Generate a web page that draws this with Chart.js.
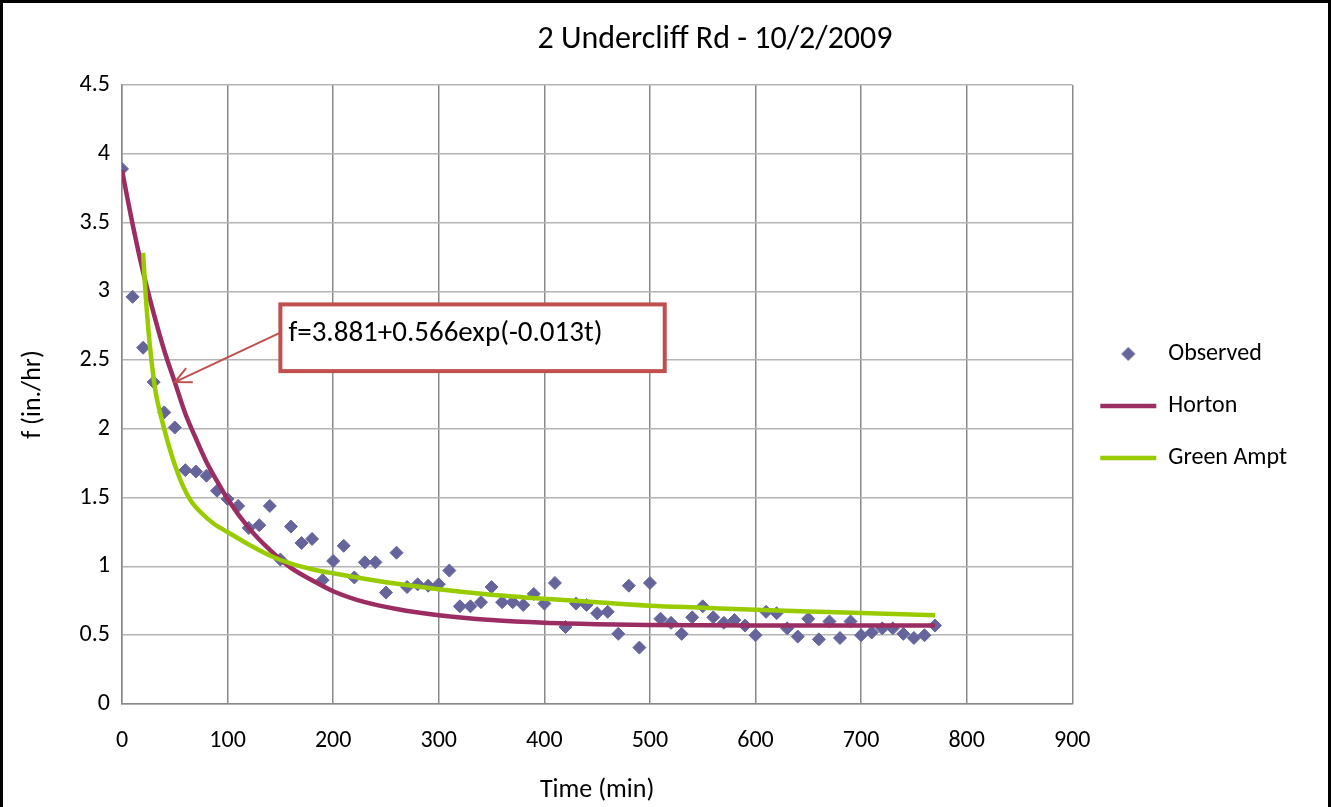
<!DOCTYPE html>
<html lang="en">

<head>
    <meta charset="UTF-8">
    <title>2 Undercliff Rd - 10/2/2009</title>
    <script src="https://cdn.jsdelivr.net/npm/chart.js"></script>
    <style>
        html,
        body {
            margin: 0;
            padding: 0;
            background: #ffffff;
        }

        .frame {
            position: relative;
            width: 1331px;
            height: 807px;
        }

        .frame::after {
            content: '';
            position: absolute;
            left: 0;
            top: 0;
            right: 0;
            bottom: -4px;
            border: 3px solid #000000;
            pointer-events: none;
        }
    </style>
</head>

<body>
    <div class="frame">
        <canvas id="infiltrationChart" width="1331" height="807"></canvas>
    </div>

    <script>
        // observed infiltration rate, read every 10 minutes
        const obsTime = [0, 10, 20, 30, 40, 50, 60, 70, 80, 90, 100, 110, 120, 130, 140, 150, 160, 170, 180, 190,
            200, 210, 220, 230, 240, 250, 260, 270, 280, 290, 300, 310, 320, 330, 340, 350, 360, 370, 380, 390,
            400, 410, 420, 430, 440, 450, 460, 470, 480, 490, 500, 510, 520, 530, 540, 550, 560, 570, 580, 590,
            600, 610, 620, 630, 640, 650, 660, 670, 680, 690, 700, 710, 720, 730, 740, 750, 760, 770];
        const obsRate = [3.89, 2.96, 2.59, 2.34, 2.12, 2.01, 1.70, 1.69, 1.66, 1.55, 1.49, 1.44, 1.28, 1.30, 1.44, 1.05, 1.29, 1.17, 1.20, 0.90,
            1.04, 1.15, 0.92, 1.03, 1.03, 0.81, 1.10, 0.85, 0.87, 0.86, 0.87, 0.97, 0.71, 0.71, 0.74, 0.85, 0.74, 0.74, 0.72, 0.80,
            0.73, 0.88, 0.56, 0.73, 0.72, 0.66, 0.67, 0.51, 0.86, 0.41, 0.88, 0.62, 0.59, 0.51, 0.63, 0.71, 0.63, 0.59, 0.61, 0.57,
            0.50, 0.67, 0.66, 0.55, 0.49, 0.62, 0.47, 0.60, 0.48, 0.60, 0.50, 0.52, 0.55, 0.55, 0.51, 0.48, 0.50, 0.57];

        // Horton fit
        const hortonTime = [0, 10, 20, 30, 40, 50, 60, 70, 80, 90, 100, 120, 140, 160, 180, 200, 230, 260, 300, 350, 400, 450, 500, 600, 700, 770];
        const hortonRate = [3.88, 3.49, 3.14, 2.84, 2.57, 2.34, 2.11, 1.93, 1.76, 1.62, 1.49, 1.28, 1.12, 0.99, 0.90, 0.82, 0.74, 0.69, 0.645, 0.61, 0.59, 0.58, 0.575, 0.57, 0.57, 0.57];

        // Green Ampt fit
        const greenTime = [20, 22, 25, 28, 32, 36, 40, 45, 50, 58, 65, 75, 87, 100, 120, 140, 160, 180, 200, 250, 300, 350, 400, 450, 500, 550, 600, 650, 700, 770];
        const greenRate = [3.28, 3.02, 2.72, 2.49, 2.26, 2.12, 2.00, 1.86, 1.74, 1.58, 1.48, 1.39, 1.31, 1.25, 1.16, 1.08, 1.02, 0.98, 0.95, 0.885, 0.835, 0.795, 0.765, 0.74, 0.715, 0.70, 0.685, 0.672, 0.662, 0.645];

        const seriesNames = ['Observed', 'Horton', 'Green Ampt'];
        const chartTitle = '2 Undercliff Rd - 10/2/2009';
        const equationText = 'f=3.881+0.566exp(-0.013t)';

        const FONT = 'Carlito, Lato, "Open Sans", sans-serif';
        const OBS_COLOR = '#65659C';

        function toPoints(xs, ys) {
            return xs.map((x, i) => ({ x: x, y: ys[i] }));
        }

        // small diamond for the legend (the 56px line width would stretch rectRot)
        const legendDiamond = document.createElement('canvas');
        legendDiamond.width = 16;
        legendDiamond.height = 16;
        (function () {
            const c = legendDiamond.getContext('2d');
            c.fillStyle = OBS_COLOR;
            c.beginPath();
            c.moveTo(8, 1);
            c.lineTo(15, 8);
            c.lineTo(8, 15);
            c.lineTo(1, 8);
            c.closePath();
            c.fill();
        })();

        // title, equation box and arrow
        const extrasPlugin = {
            id: 'extras',
            afterDatasetsDraw(chart) {
                const ctx = chart.ctx;
                const xs = chart.scales.x;
                const ys = chart.scales.y;

                ctx.save();
                ctx.fillStyle = '#000000';
                ctx.font = '32px ' + FONT;
                ctx.textAlign = 'center';
                ctx.textBaseline = 'middle';
                ctx.fillText(chartTitle, 715, 40);

                const bx1 = xs.getPixelForValue(150);
                const bx2 = xs.getPixelForValue(514);
                const by1 = ys.getPixelForValue(2.905);
                const by2 = ys.getPixelForValue(2.42);

                // arrow
                const sx = bx1;
                const sy = ys.getPixelForValue(2.70);
                const tx = xs.getPixelForValue(50);
                const ty = ys.getPixelForValue(2.34);
                const ang = Math.atan2(sy - ty, sx - tx);
                const head = 18;
                ctx.strokeStyle = '#C0504D';
                ctx.lineWidth = 2;
                ctx.beginPath();
                ctx.moveTo(sx, sy);
                ctx.lineTo(tx, ty);
                ctx.moveTo(tx + head * Math.cos(ang - 0.45), ty + head * Math.sin(ang - 0.45));
                ctx.lineTo(tx, ty);
                ctx.lineTo(tx + head * Math.cos(ang + 0.45), ty + head * Math.sin(ang + 0.45));
                ctx.stroke();

                ctx.fillStyle = '#ffffff';
                ctx.fillRect(bx1, by1, bx2 - bx1, by2 - by1);
                ctx.lineWidth = 4;
                ctx.strokeRect(bx1, by1, bx2 - bx1, by2 - by1);

                ctx.fillStyle = '#000000';
                ctx.font = '29px ' + FONT;
                ctx.textAlign = 'left';
                ctx.textBaseline = 'middle';
                ctx.fillText(equationText, bx1 + 8, by1 + 29);
                ctx.restore();
            }
        };

        const ctx = document.getElementById('infiltrationChart').getContext('2d');
        new Chart(ctx, {
            type: 'scatter',
            data: {
                datasets: [{
                    label: seriesNames[0],
                    data: toPoints(obsTime, obsRate),
                    showLine: false,
                    pointStyle: 'rectRot',
                    pointRadius: 6.5,
                    backgroundColor: OBS_COLOR,
                    borderColor: OBS_COLOR,
                    borderWidth: 1,
                    order: 3
                }, {
                    label: seriesNames[1],
                    data: toPoints(hortonTime, hortonRate),
                    showLine: true,
                    pointRadius: 0,
                    pointStyle: 'line',
                    borderColor: '#9B2D62',
                    backgroundColor: '#9B2D62',
                    borderWidth: 4.5,
                    cubicInterpolationMode: 'monotone',
                    order: 2
                }, {
                    label: seriesNames[2],
                    data: toPoints(greenTime, greenRate),
                    showLine: true,
                    pointRadius: 0,
                    pointStyle: 'line',
                    borderColor: '#99CC00',
                    backgroundColor: '#99CC00',
                    borderWidth: 4.5,
                    cubicInterpolationMode: 'monotone',
                    order: 1
                }]
            },
            options: {
                responsive: false,
                animation: false,
                layout: {
                    padding: { top: 85, left: 0, right: 34, bottom: 0 }
                },
                scales: {
                    x: {
                        type: 'linear',
                        min: 0,
                        max: 900,
                        ticks: {
                            stepSize: 100,
                            padding: 23,
                            color: '#000000',
                            font: { family: FONT, size: 24 }
                        },
                        grid: {
                            color: '#8A8A8A',
                            lineWidth: 1.5,
                            drawTicks: false
                        },
                        border: { color: '#8A8A8A', width: 1.5 },
                        title: {
                            display: true,
                            text: 'Time (min)',
                            color: '#000000',
                            font: { family: FONT, size: 26 },
                            padding: { top: 0, bottom: 1 }
                        },
                        afterFit(scale) {
                            scale.height = 103;
                        }
                    },
                    y: {
                        min: 0,
                        max: 4.5,
                        ticks: {
                            stepSize: 0.5,
                            padding: 12,
                            color: '#000000',
                            font: { family: FONT, size: 24 },
                            callback: (v) => String(v)
                        },
                        grid: {
                            color: '#B4B4B4',
                            lineWidth: 1.5,
                            drawTicks: false
                        },
                        border: { color: '#8A8A8A', width: 1.5 },
                        title: {
                            display: true,
                            text: 'f (in./hr)',
                            color: '#000000',
                            font: { family: FONT, size: 26 },
                            padding: { top: 18, bottom: 0 }
                        },
                        afterFit(scale) {
                            scale.width = 122;
                        }
                    }
                },
                plugins: {
                    legend: {
                        display: true,
                        position: 'right',
                        fullSize: false,
                        title: {
                            display: true,
                            text: ' ',
                            font: { size: 9 },
                            padding: 6
                        },
                        labels: {
                            usePointStyle: true,
                            pointStyleWidth: 56,
                            boxHeight: 10,
                            padding: 28,
                            color: '#000000',
                            font: { family: FONT, size: 24 },
                            generateLabels(chart) {
                                const items = Chart.defaults.plugins.legend.labels.generateLabels(chart);
                                items.forEach((it) => {
                                    if (it.datasetIndex === 0) it.pointStyle = legendDiamond;
                                });
                                return items;
                            },
                            sort: (a, b) => a.datasetIndex - b.datasetIndex
                        }
                    },
                    tooltip: { enabled: false }
                }
            },
            plugins: [extrasPlugin]
        });
    </script>
</body>

</html>
